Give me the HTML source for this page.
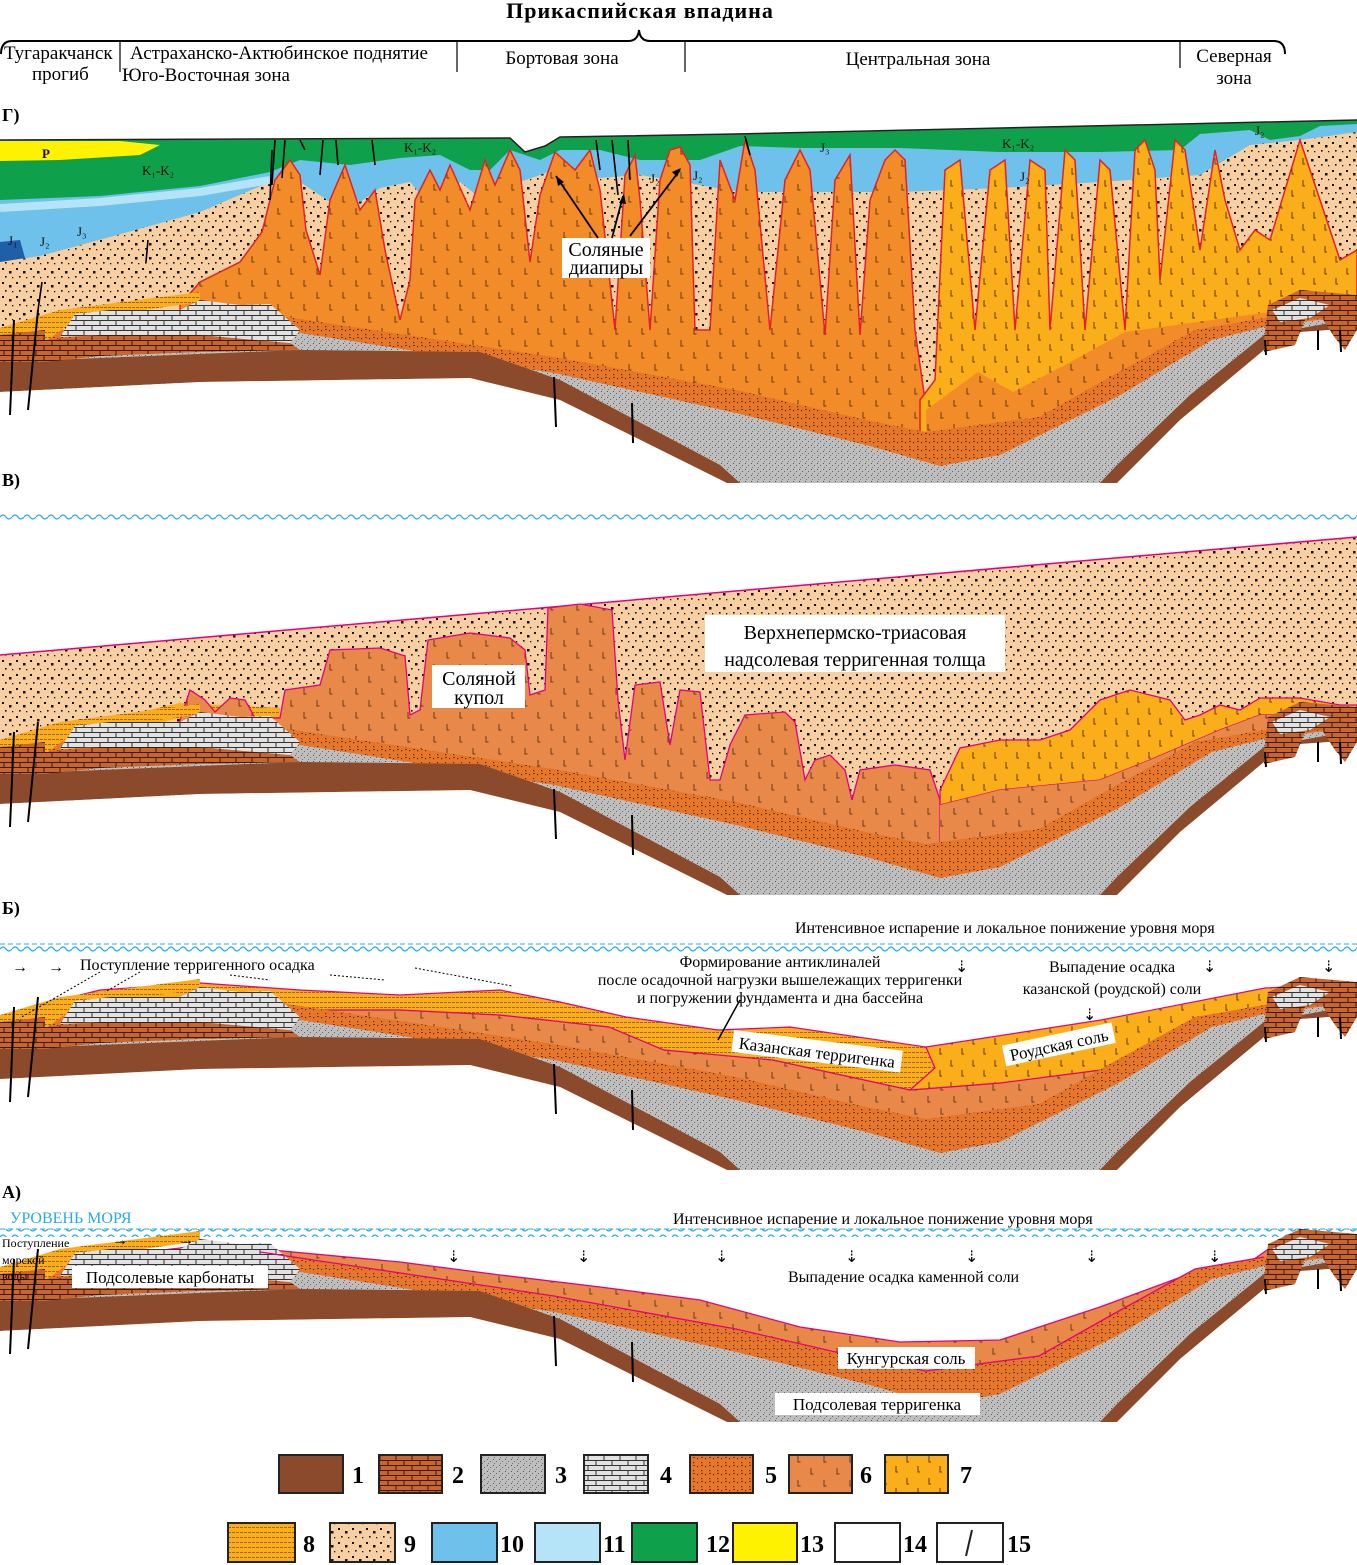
<!DOCTYPE html>
<html><head><meta charset="utf-8"><style>
html,body{margin:0;padding:0;background:#fff;}
svg{display:block;font-family:"Liberation Serif",serif;}
</style></head><body>
<svg width="1357" height="1565" viewBox="0 0 1357 1565" xmlns="http://www.w3.org/2000/svg">
<defs>
<pattern id="p9" width="14" height="14" patternUnits="userSpaceOnUse"><rect width="14" height="14" fill="#F8CFA0"/><rect x="2" y="2" width="2" height="2" fill="#111"/><rect x="9" y="5" width="2.5" height="2.5" fill="#111"/><rect x="5" y="10" width="1.6" height="1.6" fill="#111"/><rect x="12" y="11" width="1.3" height="1.3" fill="#111"/></pattern>
<pattern id="p6" width="26" height="24" patternUnits="userSpaceOnUse"><rect width="26" height="24" fill="#F28C28"/><path d="M5 4v6h2.5M18 16v6h2.5" stroke="#6b3a1a" stroke-width="1" fill="none"/></pattern>
<pattern id="p6b" width="26" height="24" patternUnits="userSpaceOnUse"><rect width="26" height="24" fill="#E8894A"/><path d="M5 4v6h2.5M18 16v6h2.5" stroke="#6b3a1a" stroke-width="1" fill="none"/></pattern>
<pattern id="p7" width="22" height="22" patternUnits="userSpaceOnUse"><rect width="22" height="22" fill="#F9AE1A"/><path d="M5 4v6h2M16 14v6h2" stroke="#6b3a1a" stroke-width="1" fill="none"/></pattern>
<pattern id="p5" width="8" height="8" patternUnits="userSpaceOnUse"><rect width="8" height="8" fill="#E5762A"/><rect x="1" y="2" width="1.2" height="1.2" fill="#5a2a10"/><rect x="5" y="6" width="1.2" height="1.2" fill="#5a2a10"/><rect x="5" y="1" width="2" height="0.8" fill="#5a2a10"/></pattern>
<pattern id="p3" width="6" height="6" patternUnits="userSpaceOnUse"><rect width="6" height="6" fill="#BEBEBE"/><rect x="1" y="1" width="1" height="1" fill="#555"/><rect x="4" y="3" width="1" height="1" fill="#666"/><rect x="2" y="5" width="1" height="1" fill="#777"/></pattern>
<pattern id="p2" width="16" height="10" patternUnits="userSpaceOnUse"><rect width="16" height="10" fill="#C9662E"/><path d="M0 0.5H16M0 5.5H16M4 0V5M12 5V10" stroke="#3a1a0a" stroke-width="1"/></pattern>
<pattern id="p4" width="16" height="10" patternUnits="userSpaceOnUse"><rect width="16" height="10" fill="#E2E2E2"/><path d="M0 0.5H16M0 5.5H16M4 0V5M12 5V10" stroke="#333" stroke-width="1"/></pattern>
<pattern id="p8" width="8" height="5" patternUnits="userSpaceOnUse"><rect width="8" height="5" fill="#F9AE1A"/><path d="M0 2.5H3M4 2.5H7" stroke="#8a4a10" stroke-width="0.8"/></pattern>
<pattern id="wave" width="12" height="8" patternUnits="userSpaceOnUse"><path d="M0 5Q3 1 6 5T12 5" stroke="#29ABE2" stroke-width="1.3" fill="none"/></pattern>
<g id="base">
<path d="M0,350 L300,333 L554,373 L736,413 L866,445 L940,466 L1000,455 L1117,397 L1212,340 L1264,327 L1357,315 L1357,305 L1264,318 L1195,330 L1117,373 L1039,417 L926,432 L866,420 L736,390 L554,357 L260,313 L0,335 Z" fill="url(#p5)"/>
<path d="M0,362 L300,350 L480,352 L560,380 L720,465 L740,483 L1100,483 L1117,465 L1190,395 L1264,335 L1357,318 L1357,315 L1264,327 L1212,340 L1117,397 L1000,455 L940,466 L866,445 L736,413 L554,373 L300,333 L0,350 Z" fill="url(#p3)"/>
<path d="M0,392 L200,382 L470,378 L560,400 L727,483 L1117,483 L1180,420 L1264,350 L1300,332 L1357,328 L1357,318 L1264,335 L1190,395 L1117,465 L1100,483 L740,483 L720,465 L560,380 L480,352 L300,350 L0,362 Z" fill="#8B4A2B"/>
<path d="M0,392 L200,382 L470,378 L560,400 L727,483 L1117,483 L1180,420 L1264,350 L1300,332 L1357,328 L1357,520 L0,520 Z" fill="#fff"/>
<path d="M0,328 L60,310 L200,292 L200,302 L75,320 L45,342 L0,352Z" fill="url(#p8)"/>
<path d="M45,340 L100,335 L200,335 L290,343 L300,350 L200,352 L100,356 L45,362 Z" fill="url(#p2)"/>
<path d="M60,337 L75,314 L110,310 L180,310 L200,300 L240,305 L270,304 L300,330 L290,343 L200,335 L100,335 Z" fill="url(#p4)"/>
<path d="M0,335 L45,330 L45,362 L0,362 Z" fill="url(#p2)"/>
<path d="M1264,340 L1268,305 L1300,290 L1357,295 L1357,330 L1345,350 L1335,338 L1322,318 L1305,320 L1295,345 L1264,352Z" fill="url(#p2)"/>
<path d="M1272,310 L1300,298 L1330,305 L1310,318 L1280,322Z" fill="url(#p4)"/>
<path d="M554,377L556,427M632,403L633,443M10,415L14,320M28,410L38,310M1265,340L1266,355M1318,330L1318,350M1340,330L1341,352" stroke="#000" stroke-width="2"/>
</g>
</defs>

<!-- HEADER -->
<text x="640" y="18" text-anchor="middle" font-size="22" font-weight="bold" letter-spacing="1">Прикаспийская впадина</text>
<path d="M1,54 Q1,41 12,41 H628 Q638,41 639,30 Q640,41 650,41 H1274 Q1285,41 1285,54" fill="none" stroke="#000" stroke-width="2"/>
<path d="M120,42V72M457,42V72M685,42V72M1180,42V68" stroke="#000" stroke-width="1.2"/>
<g font-size="19">
<text x="4" y="59">Тугаракчанск</text><text x="32" y="80">прогиб</text>
<text x="130" y="59">Астраханско-Актюбинское поднятие</text>
<text x="122" y="81">Юго-Восточная зона</text>
<text x="562" y="64" text-anchor="middle">Бортовая зона</text>
<text x="918" y="65" text-anchor="middle">Центральная зона</text>
<text x="1234" y="62" text-anchor="middle">Северная</text><text x="1234" y="84" text-anchor="middle">зона</text>
</g>

<!-- PANEL Г -->
<path d="M0,140 L510,138 L525,152 L545,146 L560,137 L735,134 L1357,120 L1357,480 L0,480 Z" fill="url(#p9)"/>
<path d="M0,140 L510,138 L525,152 L545,146 L560,137 L735,134 L1357,120 L1357,132 L1300,140 L1250,145 L1200,175 L1100,182 L1000,188 L900,192 L800,192 L740,192 L700,185 L640,175 L600,178 L560,168 L520,182 L500,178 L480,198 L460,182 L440,218 L410,182 L380,188 L360,202 L345,188 L330,202 L300,182 L270,182 L200,212 L150,226 L110,237 L40,256 L0,262 Z" fill="#6EC1EA"/>
<path d="M0,242 L20,240 L25,258 L0,262Z" fill="#1f5fa8"/>
<path d="M0,140 L510,138 L525,152 L545,146 L560,137 L735,134 L1357,120 L1357,124 L1320,126 L1300,136 L1270,140 L1250,130 L1200,134 L1180,150 L1100,152 L1000,152 L900,148 L800,148 L740,146 L700,160 L640,160 L600,150 L560,150 L540,160 L510,150 L490,170 L470,170 L440,155 L400,158 L350,165 L300,160 L270,172 L200,186 L100,196 L0,200 Z" fill="#0FA04B"/>
<path d="M0,208 L100,202 L200,192 L270,180" stroke="#B5E3F7" stroke-width="8" fill="none"/>
<path d="M0,141 L120,141 L160,145 L140,155 L60,160 L0,161 Z" fill="#FFF200"/>
<path d="M0,140 L510,138 L525,152 L545,146 L560,137 L735,134 L1357,120" stroke="#222" stroke-width="1.5" fill="none"/>
<path d="M180,305 L200,282 L240,262 L262,232 L275,180 L290,160 L300,175 L306,230 L320,275 L330,200 L345,165 L360,210 L375,190 L385,250 L400,320 L410,280 L415,200 L430,170 L440,190 L450,165 L470,210 L485,160 L495,185 L510,150 L520,170 L530,262 L540,195 L555,152 L575,170 L590,150 L600,190 L615,330 L625,175 L635,155 L640,200 L650,330 L660,180 L670,150 L680,147 L690,165 L695,330 L710,330 L720,160 L735,200 L745,140 L755,170 L770,330 L785,180 L800,150 L810,170 L825,335 L835,180 L850,155 L860,335 L870,200 L885,160 L895,150 L905,160 L915,330 L925,400 L925,490 L180,490 Z" fill="url(#p6)" stroke="#E4202A" stroke-width="1.5"/>
<path d="M920,400 L935,380 L945,170 L960,160 L975,330 L990,170 L1005,160 L1015,330 L1030,160 L1045,170 L1050,330 L1065,150 L1075,160 L1085,330 L1100,160 L1110,170 L1125,330 L1135,150 L1145,140 L1155,170 L1160,280 L1175,140 L1185,150 L1200,250 L1215,150 L1225,200 L1240,250 L1255,230 L1270,240 L1300,140 L1320,200 L1340,260 L1357,250 L1357,490 L920,490 Z" fill="url(#p7)" stroke="#E4202A" stroke-width="1.5"/>
<path d="M926,410 L978,372 L1013,392 L1065,365 L1125,332 L1212,320 L1270,312 L1270,490 L926,490 Z" fill="url(#p6)"/>
<use href="#base"/>
<path d="M272,185L275,140M282,178L285,140M305,150L300,140M320,175L323,140M338,165L336,140M375,165L372,140M600,170L596,140M618,195L612,140M630,180L628,140M750,155L745,136M148,240L146,262M272,150L270,200M38,310L42,282" stroke="#000" stroke-width="1.6"/>
<g font-size="13" fill="#111"><text x="42" y="158" font-weight="bold">P</text><text x="142" y="175">K₁-K₂</text><text x="404" y="152">K₁-K₂</text><text x="1002" y="148">K₁-K₂</text><text x="8" y="245">J₁</text><text x="40" y="246">J₂</text><text x="77" y="236">J₃</text><text x="820" y="152">J₃</text><text x="650" y="183">J₂</text><text x="693" y="180">J₂</text><text x="1020" y="181">J₂</text><text x="1255" y="135">J₂</text></g>
<rect x="562" y="238" width="88" height="40" fill="#fff"/>
<text x="606" y="256" font-size="20" text-anchor="middle">Соляные</text><text x="606" y="274" font-size="20" text-anchor="middle">диапиры</text>
<g stroke="#000" stroke-width="1.8"><path d="M598,238L556,176M612,238L623,196M630,236L680,170"/></g>
<g fill="#000"><path d="M556,176l2,10l6,-4z"/><path d="M624,194l-5,9l7,1z"/><path d="M681,168l-9,4l5,5z"/></g>

<!-- PANEL В -->
<rect x="0" y="513" width="1357" height="8" fill="url(#wave)"/>
<path d="M0,655 L1357,537 L1357,900 L0,900 Z" fill="url(#p9)"/>
<path d="M0,655 L1357,537" stroke="#E6007E" stroke-width="1.5"/>
<path d="M0,745 L60,730 L180,703 L280,708 L280,722 L180,718 L60,745 L0,762Z" fill="url(#p8)"/>
<path d="M180,720 L190,690 L205,700 L215,712 L230,698 L245,700 L255,718 L280,718 L285,690 L320,685 L330,650 L380,648 L405,656 L410,715 L420,710 L428,640 L470,633 L510,638 L525,650 L530,695 L545,690 L548,608 L580,604 L612,610 L618,700 L625,760 L635,685 L660,682 L670,745 L680,690 L700,692 L710,780 L720,780 L730,745 L745,715 L785,712 L795,722 L805,780 L815,760 L830,755 L845,770 L852,800 L860,770 L895,765 L930,770 L940,800 L940,905 L180,905Z" fill="url(#p6b)" stroke="#E6007E" stroke-width="1.3"/>
<path d="M940,790 L960,748 L1000,740 L1040,740 L1070,730 L1100,700 L1130,690 L1170,700 L1185,720 L1200,715 L1220,705 L1240,710 L1260,698 L1300,698 L1340,705 L1357,705 L1357,715 L1260,715 L1220,730 L1150,760 L1100,780 L1000,790 L940,805Z" fill="url(#p7)" stroke="#E6007E" stroke-width="1.3"/>
<path d="M940,805 L1000,790 L1100,780 L1150,760 L1220,730 L1260,715 L1357,715 L1357,905 L940,905Z" fill="url(#p6b)"/>
<use href="#base" transform="translate(0,412)"/>
<rect x="705" y="615" width="300" height="57" fill="#fff"/>
<text x="855" y="639" font-size="20" text-anchor="middle">Верхнепермско-триасовая</text>
<text x="855" y="666" font-size="20" text-anchor="middle">надсолевая терригенная толща</text>
<rect x="432" y="665" width="93" height="43" fill="#fff"/>
<text x="479" y="685" font-size="20" text-anchor="middle">Соляной</text><text x="479" y="704" font-size="20" text-anchor="middle">купол</text>

<!-- PANEL Б -->
<text x="795" y="933" font-size="16">Интенсивное испарение и локальное понижение уровня моря</text>
<path d="M0,944H1357" stroke="#29ABE2" stroke-width="1" stroke-dasharray="5,3"/>
<rect x="0" y="944" width="1357" height="8" fill="url(#wave)"/>
<path d="M0,1030 L60,1012 L200,1000 L300,1010 L400,1010 L500,1015 L609,1027 L664,1050 L773,1060 L910,1090 L1000,1083 L1101,1070 L1265,1017 L1357,1000 L1357,1185 L0,1185 Z" fill="url(#p6b)" stroke="#E6007E" stroke-width="1.2"/>
<path d="M20,1022 L60,1000 L100,990 L200,983 L300,990 L400,995 L500,990 L560,1002 L626,1017 L718,1030 L790,1027 L926,1047 L935,1068 L910,1090 L773,1060 L664,1050 L609,1027 L500,1015 L400,1010 L300,1010 L200,1000 L100,1005 L60,1012 L20,1032 Z" fill="url(#p8)" stroke="#E6007E" stroke-width="1.2"/>
<path d="M926,1047 L1101,1020 L1265,988 L1357,983 L1357,1000 L1265,1017 L1101,1070 L1000,1083 L910,1090 L935,1068 Z" fill="url(#p7)" stroke="#E6007E" stroke-width="1.2"/>
<use href="#base" transform="translate(0,687)"/>
<g font-size="16"><text x="12" y="972">→</text><text x="48" y="972">→</text>
<text x="80" y="970">Поступление терригенного осадка</text>
<text x="780" y="967" text-anchor="middle">Формирование антиклиналей</text>
<text x="780" y="985" text-anchor="middle">после осадочной нагрузки вышележащих терригенки</text>
<text x="780" y="1003" text-anchor="middle">и погружении фундамента и дна бассейна</text>
<text x="1112" y="972" text-anchor="middle">Выпадение осадка</text>
<text x="1112" y="994" text-anchor="middle">казанской (роудской) соли</text>
<text x="955" y="972">⇣</text><text x="1203" y="972">⇣</text><text x="1322" y="972">⇣</text><text x="1083" y="1020">⇣</text></g>
<g stroke="#000" stroke-width="1" stroke-dasharray="2,2" fill="none"><path d="M100,972L20,1018M140,972L105,992M230,975L270,980M330,975L385,980M415,968L512,986"/></g>
<path d="M740,1000L718,1040" stroke="#000" stroke-width="1.5"/>
<g transform="rotate(7 815 1052)"><rect x="732" y="1040" width="170" height="22" fill="#fff"/><text x="817" y="1058" font-size="17" text-anchor="middle">Казанская терригенка</text></g>
<g transform="rotate(-12 1058 1045)"><rect x="1003" y="1034" width="112" height="21" fill="#fff"/><text x="1059" y="1051" font-size="17" text-anchor="middle">Роудская соль</text></g>

<!-- PANEL А -->
<text x="10" y="1223" font-size="16" fill="#29ABE2">УРОВЕНЬ МОРЯ</text>
<text x="673" y="1224" font-size="16">Интенсивное испарение и локальное понижение уровня моря</text>
<path d="M0,1229H1357" stroke="#29ABE2" stroke-width="1" stroke-dasharray="5,3"/>
<rect x="0" y="1229" width="1357" height="8" fill="url(#wave)"/>
<path d="M60,1262 L180,1248 L215,1242 L240,1248 L250,1248 L400,1262 L500,1275 L600,1287 L700,1300 L800,1327 L900,1342 L1000,1340 L1100,1307 L1200,1270 L1250,1262 L1270,1248 L1290,1240 L1310,1245 L1357,1248 L1357,1438 L60,1438 Z" fill="url(#p6b)" stroke="#E6007E" stroke-width="1.3"/>
<use href="#base" transform="translate(0,939)"/>
<path d="M260,1252 L554,1296 L736,1329 L866,1359 L926,1371 L1039,1356 L1117,1312 L1195,1269 L1264,1257" stroke="#E6007E" stroke-width="1.3" fill="none"/>
<g font-size="12"><text x="2" y="1247">Поступление</text><text x="2" y="1264">морской</text><text x="2" y="1280">воды</text></g>
<g font-size="16"><text x="112" y="1245">→</text><text x="178" y="1245">→</text>
<text x="447" y="1262">⇣</text><text x="577" y="1262">⇣</text><text x="715" y="1262">⇣</text><text x="845" y="1262">⇣</text><text x="965" y="1262">⇣</text><text x="1085" y="1262">⇣</text><text x="1208" y="1262">⇣</text>
<text x="788" y="1282">Выпадение осадка каменной соли</text></g>
<rect x="72" y="1266" width="196" height="22" fill="#fff"/><text x="170" y="1283" font-size="17" text-anchor="middle">Подсолевые карбонаты</text>
<rect x="838" y="1347" width="137" height="22" fill="#fff"/><text x="906" y="1364" font-size="17" text-anchor="middle">Кунгурская соль</text>
<rect x="775" y="1393" width="205" height="22" fill="#fff"/><text x="877" y="1410" font-size="17" text-anchor="middle">Подсолевая терригенка</text>

<g font-size="18" font-weight="bold"><text x="2" y="121">Г)</text><text x="2" y="486">В)</text><text x="2" y="914">Б)</text><text x="2" y="1198">А)</text></g>

<!-- LEGEND -->
<g stroke="#222" stroke-width="2">
<rect x="279" y="1455" width="64" height="38" fill="#8B4A2B"/>
<rect x="379" y="1455" width="63" height="38" fill="url(#p2)"/>
<rect x="481" y="1455" width="64" height="38" fill="url(#p3)"/>
<rect x="584" y="1455" width="64" height="38" fill="url(#p4)"/>
<rect x="690" y="1455" width="63" height="38" fill="url(#p5)"/>
<rect x="789" y="1455" width="63" height="38" fill="url(#p6b)"/>
<rect x="885" y="1455" width="63" height="38" fill="url(#p7)"/>
<rect x="228" y="1523" width="67" height="39" fill="url(#p8)"/>
<rect x="330" y="1523" width="65" height="39" fill="url(#p9)"/>
<rect x="432" y="1523" width="65" height="39" fill="#6EC1EA"/>
<rect x="535" y="1523" width="65" height="39" fill="#B5E3F7"/>
<rect x="632" y="1523" width="65" height="39" fill="#0FA04B"/>
<rect x="733" y="1523" width="64" height="39" fill="#FFF200"/>
<rect x="835" y="1523" width="65" height="39" fill="#fff"/>
<rect x="937" y="1523" width="66" height="39" fill="#fff"/>
<path d="M972,1530L966,1556" fill="none"/>
</g>
<g font-size="24" font-weight="bold">
<text x="352" y="1483">1</text><text x="452" y="1483">2</text><text x="555" y="1483">3</text><text x="660" y="1483">4</text><text x="765" y="1483">5</text><text x="860" y="1483">6</text><text x="960" y="1483">7</text>
<text x="303" y="1552">8</text><text x="404" y="1552">9</text><text x="500" y="1552">10</text><text x="603" y="1552">11</text><text x="706" y="1552">12</text><text x="800" y="1552">13</text><text x="903" y="1552">14</text><text x="1007" y="1552">15</text>
</g>
</svg>
</body></html>
